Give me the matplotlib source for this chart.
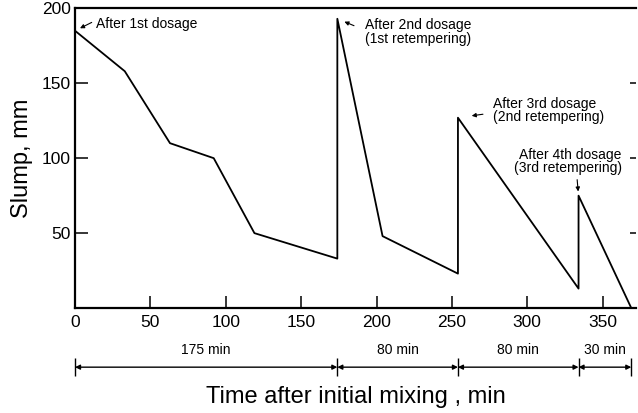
import matplotlib.pyplot as plt

plt.rcParams['font.family'] = ['Liberation Sans', 'DejaVu Sans']

# slump history
time_min = [0, 33, 63, 92, 119, 174, 174, 204, 254, 254, 334, 334, 369]
slump_mm = [185, 158, 110, 100, 50, 33, 193, 48, 23, 127, 13, 75, 0]

# dosage points and their notes
dose_t = [0, 174, 254, 334]
dose_s = [185, 193, 127, 75]
dose_notes = ["After 1st dosage",
              "After 2nd dosage\n(1st retempering)",
              "After 3rd dosage\n(2nd retempering)",
              "After 4th dosage\n(3rd retempering)"]

# intervals shown under the axis
bounds = [0, 174, 254, 334, 369]
interval_labels = ["175 min", "80 min", "80 min", "30 min"]

fig = plt.figure(figsize=(6.38, 4.13), dpi=100)
ax = fig.add_axes([0.1176, 0.254, 0.879, 0.726])

ax.plot(time_min, slump_mm, color='black', lw=1.3)

ax.set_xlim(0, 372)
ax.set_ylim(0, 200)
ax.set_xticks([0, 50, 100, 150, 200, 250, 300, 350])
ax.set_yticks([50, 100, 150, 200])
for s in ['left', 'bottom', 'top']:
    ax.spines[s].set_linewidth(1.6)
ax.spines['right'].set_visible(False)
ax.tick_params(axis='x', direction='in', length=9, width=1.1, labelsize=12.5, pad=5)
ax.tick_params(axis='y', direction='in', length=9, width=1.1, labelsize=12.5, pad=3)
ax.tick_params(axis='y', which='major', right=True)
for t in ax.yaxis.get_major_ticks():
    t.tick2line.set_markersize(4)

ax.set_ylabel("Slump, mm", fontsize=17, labelpad=6)
ax.set_xlabel("Time after initial mixing , min", fontsize=17, labelpad=40)

# dosage notes: (arrow tail offset, shrink, text offset, ha) in points
arrow_tail = [(12, 6), (12, -5), (18, 2.5), (-1, 11.5)]
arrow_shrink = [4, 5.5, 10, 3]
text_off = [(15, 5), (20, -9.5), (25, 5), (31, 24.5)]
text_ha = ['left', 'left', 'left', 'right']
for t, s, note, tail, shr, off, ha in zip(dose_t, dose_s, dose_notes, arrow_tail,
                                         arrow_shrink, text_off, text_ha):
    ax.annotate("", xy=(t, s), xytext=tail, textcoords='offset points',
                arrowprops=dict(arrowstyle='-|>', lw=0.8, color='black',
                                mutation_scale=6, shrinkA=0, shrinkB=shr),
                annotation_clip=False)
    ax.annotate(note, xy=(t, s), xytext=off, textcoords='offset points',
                ha=ha, va='center', fontsize=10, linespacing=0.95,
                annotation_clip=False)

# interval dimension line below the x axis
tr = ax.get_xaxis_transform()
dim_y = -0.197
ax.vlines(bounds, dim_y - 0.03, dim_y + 0.03, transform=tr, color='black',
          lw=1.0, clip_on=False)
for a, b, lab in zip(bounds[:-1], bounds[1:], interval_labels):
    ax.annotate("", xy=(b, dim_y), xytext=(a, dim_y), xycoords=tr, textcoords=tr,
                arrowprops=dict(arrowstyle='<|-|>', lw=1.0, color='black',
                                mutation_scale=7, shrinkA=0, shrinkB=0))
    ax.text((a + b) / 2, -0.14, lab, transform=tr, ha='center', va='center',
            fontsize=10)

fig.savefig("out.png", dpi=100)
